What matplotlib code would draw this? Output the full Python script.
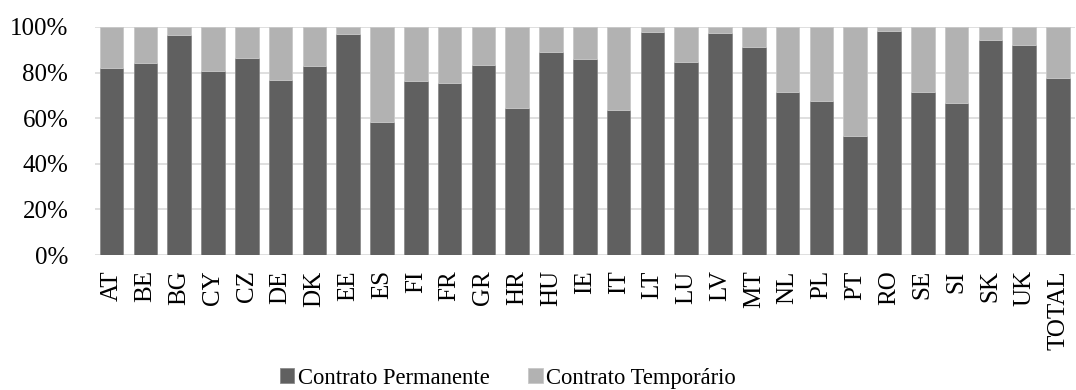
import numpy as np
import matplotlib.pyplot as plt

paises = ["AT", "BE", "BG", "CY", "CZ", "DE", "DK", "EE", "ES", "FI", "FR", "GR",
          "HR", "HU", "IE", "IT", "LT", "LU", "LV", "MT", "NL", "PL", "PT", "RO",
          "SE", "SI", "SK", "UK", "TOTAL"]
permanente = [81.9, 84.4, 96.6, 80.7, 86.4, 76.9, 82.9, 97.1, 58.2, 76.5, 75.6, 83.3,
              64.6, 89.0, 86.1, 63.7, 97.9, 84.6, 97.2, 91.2, 71.5, 67.7, 52.3, 98.2,
              71.5, 66.8, 94.3, 92.1, 77.6]
temporario = [100 - p for p in permanente]

plt.rcParams['font.family'] = ['Liberation Serif', 'DejaVu Serif']

fig = plt.figure(figsize=(10.76, 3.9), dpi=100)
ax = fig.add_axes([0.088, 0.346, 0.911, 0.585])

x = np.arange(len(paises))
ax.bar(x, permanente, width=0.7, color="#606060", edgecolor="#8a8a8a", linewidth=0.6,
       label="Contrato Permanente", zorder=3)
ax.bar(x, temporario, width=0.7, bottom=permanente, color="#b2b2b2", edgecolor="#c8c8c8",
       linewidth=0.6, label="Contrato Temporário", zorder=3)

ax.set_xlim(-0.5, len(paises) - 0.5)
ax.set_ylim(0, 100)
ax.set_yticks(np.arange(0, 101, 20))
ax.set_yticklabels([f"{v}%" for v in range(0, 101, 20)], fontsize=18)
ax.set_xticks(x)
ax.set_xticklabels(paises, rotation=90, fontsize=18)
ax.tick_params(axis="x", length=0, pad=11)
ax.tick_params(axis="y", length=0, pad=19)
ax.grid(axis="y", color="#d9d9d9", linewidth=1.2, zorder=0)
for s in ax.spines.values():
    s.set_visible(False)

fig.legend(loc="center", bbox_to_anchor=(0.472, 0.03), ncol=2, frameon=False, fontsize=16.3,
           handlelength=0.65, handleheight=0.65, handletextpad=0.15, columnspacing=1.7)

fig.savefig("out.png", dpi=100)
